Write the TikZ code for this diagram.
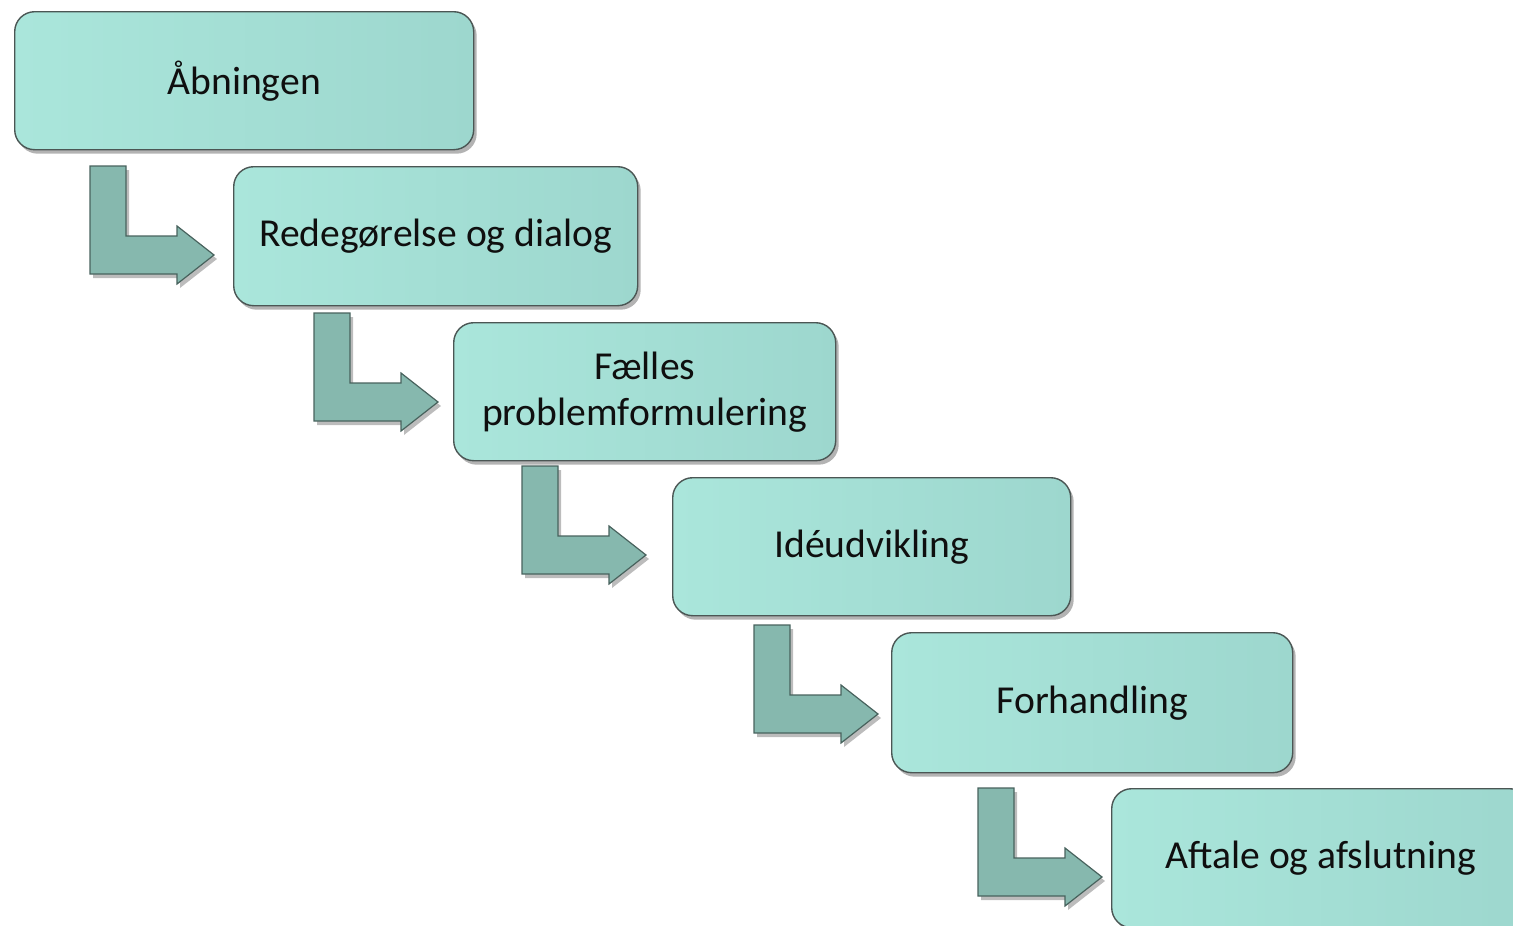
\documentclass[tikz,border=0pt]{standalone}
\usepackage{fontspec}
\setmainfont{Carlito}
\usetikzlibrary{shadows}
\definecolor{boxL}{RGB}{170,230,219}
\definecolor{boxR}{RGB}{157,215,206}
\definecolor{boxLine}{RGB}{75,86,84}
\definecolor{arrFill}{RGB}{134,184,174}
\definecolor{arrLine}{RGB}{72,98,93}
\definecolor{txt}{RGB}{15,15,15}
\tikzset{
  stage/.style={draw=boxLine, line width=1.4pt, rounded corners=20pt,
    left color=boxL, right color=boxR, anchor=north west, inner sep=0pt,
    text=txt, font=\fontsize{39.6}{46}\selectfont, align=center,
    drop shadow={shadow xshift=3pt, shadow yshift=-4pt, opacity=0.4, fill=black!75}},
  bentstyle/.style={fill=arrFill, draw=arrLine, line width=1.2pt,
    drop shadow={shadow xshift=3pt, shadow yshift=-4pt, opacity=0.35, fill=black!75}},
  bentarrow/.pic={\filldraw[bentstyle] (0,0) -- (36,0) -- (36,70) -- (87,70) -- (87,60)
      -- (124,89) -- (87,118) -- (87,108) -- (0,108) -- cycle;}
}
\begin{document}
\begin{tikzpicture}[x=1pt,y=-1pt]
\useasboundingbox (0,0) rectangle (1513,926);
\clip (0,0) rectangle (1513,926);
\node[stage, minimum width=459pt, minimum height=138pt] (b1) at (14,11) {Åbningen};
\node[stage, minimum width=404pt, minimum height=139pt] (b2) at (233,166) {Redegørelse og dialog};
\node[stage, minimum width=382pt, minimum height=138pt] (b3) at (453,322) {Fælles\\problemformulering};
\node[stage, minimum width=398pt, minimum height=138pt] (b4) at (672,477) {Idéudvikling};
\node[stage, minimum width=401pt, minimum height=140pt] (b5) at (891,632) {Forhandling};
\node[stage, minimum width=418pt, minimum height=139pt] (b6) at (1111,788) {Aftale og afslutning};
\pic at (90,166) {bentarrow};
\pic at (314,313) {bentarrow};
\pic at (522,466) {bentarrow};
\pic at (754,625) {bentarrow};
\pic at (978,788) {bentarrow};
\end{tikzpicture}
\end{document}
